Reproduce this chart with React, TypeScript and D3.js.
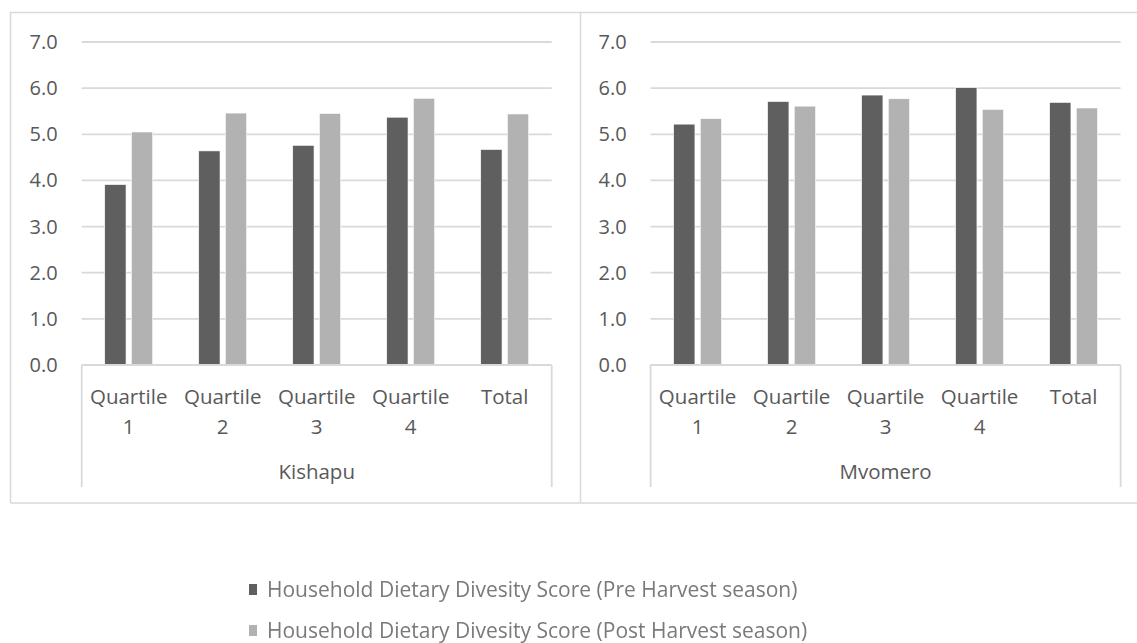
import React from "react";
import * as d3 from "d3";

// Household Dietary Diversity Score by wealth quartile, two districts
const categories = ["Quartile 1", "Quartile 2", "Quartile 3", "Quartile 4", "Total"];
const districts = ["Kishapu", "Mvomero"];
const seriesNames = [
  "Household Dietary Divesity Score (Pre Harvest season)",
  "Household Dietary Divesity Score (Post Harvest season)",
];
const kishapuPre = [3.91, 4.64, 4.76, 5.37, 4.67];
const kishapuPost = [5.05, 5.46, 5.45, 5.78, 5.44];
const mvomeroPre = [5.22, 5.71, 5.85, 6.01, 5.69];
const mvomeroPost = [5.34, 5.61, 5.77, 5.54, 5.57];
const yTicks = [0, 1, 2, 3, 4, 5, 6, 7];

const panelValues = [
  [kishapuPre, kishapuPost],
  [mvomeroPre, mvomeroPost],
];

const W = 1137;
const H = 643;
const seriesColors = ["#5f5f5f", "#b2b2b2"];
const gridColor = "#d9d9d9";
const textColor = "#595959";
const font = "'Open Sans', 'Noto Sans', sans-serif";

const panels = [
  { left: 10.5, right: 580.5, plotLeft: 81.7, plotRight: 551.7 },
  { left: 580.5, right: 1140, plotLeft: 650.6, plotRight: 1120.6 },
];

const boxTop = 12.5;
const boxBottom = 503;
const axisBottom = 487;

const y = d3.scaleLinear().domain([0, 7]).range([365, 42]);

function Panel({ idx }: { idx: number }) {
  const p = panels[idx];
  const x0 = d3
    .scaleBand<string>()
    .domain(categories)
    .range([p.plotLeft, p.plotRight])
    .paddingInner(0.49)
    .paddingOuter(0.245);
  const x1 = d3
    .scaleBand<number>()
    .domain([0, 1])
    .range([0, x0.bandwidth()])
    .paddingInner(0.2);
  const vals = panelValues[idx];
  return (
    <g>
      {yTicks.map((t) => (
        <g key={t}>
          {t > 0 && (
            <line
              x1={p.plotLeft}
              x2={p.plotRight}
              y1={y(t)}
              y2={y(t)}
              stroke={gridColor}
              strokeWidth={1.8}
            />
          )}
          <text
            x={p.plotLeft - 24}
            y={y(t)}
            dy="0.35em"
            textAnchor="end"
            fontSize={20}
            fill={textColor}
            fontFamily={font}
          >
            {t.toFixed(1)}
          </text>
        </g>
      ))}
      {vals.map((series, si) =>
        series.map((v, ci) => (
          <rect
            key={`${si}-${ci}`}
            x={(x0(categories[ci]) as number) + (x1(si) as number)}
            y={y(v)}
            width={x1.bandwidth()}
            height={y(0) - y(v)}
            fill={seriesColors[si]}
            stroke="#ffffff"
            strokeWidth={0.6}
          />
        ))
      )}
      {/* category axis box */}
      <line x1={p.plotLeft} x2={p.plotRight} y1={y(0)} y2={y(0)} stroke={gridColor} strokeWidth={1.8} />
      <line x1={p.plotLeft} x2={p.plotLeft} y1={y(0)} y2={axisBottom} stroke={gridColor} strokeWidth={1.8} />
      <line x1={p.plotRight} x2={p.plotRight} y1={y(0)} y2={axisBottom} stroke={gridColor} strokeWidth={1.8} />
      {categories.map((c) => {
        const cx = (x0(c) as number) + x0.bandwidth() / 2;
        const parts = c.split(" ");
        return (
          <text
            key={c}
            x={cx}
            textAnchor="middle"
            fontSize={20.5}
            fill={textColor}
            fontFamily={font}
          >
            {parts.map((s, i) => (
              <tspan key={i} x={cx} y={397 + i * 30} dy="0.35em">
                {s}
              </tspan>
            ))}
          </text>
        );
      })}
      <text
        x={(p.plotLeft + p.plotRight) / 2}
        y={472}
        dy="0.35em"
        textAnchor="middle"
        fontSize={20.5}
        fill={textColor}
        fontFamily={font}
      >
        {districts[idx]}
      </text>
    </g>
  );
}

export default function App() {
  const legendX = 249;
  const legendY = [590, 631];
  return (
    <svg
      width={W}
      height={H}
      style={{ position: "absolute", left: 0, top: 0, background: "#ffffff" }}
    >
      <defs>
        <filter id="soft" x="-5%" y="-50%" width="110%" height="200%">
          <feGaussianBlur stdDeviation="0.7" />
        </filter>
      </defs>
      <rect x={0} y={0} width={W} height={H} fill="#ffffff" />
      {/* panel frames */}
      <path
        d={`M${panels[0].left},${boxBottom} V${boxTop} H${W + 2} M${panels[1].left},${boxTop} V${boxBottom} M${panels[0].left},${boxBottom} H${W + 2}`}
        fill="none"
        stroke={gridColor}
        strokeWidth={1.5}
      />
      <Panel idx={0} />
      <Panel idx={1} />
      <g filter="url(#soft)">
        {seriesNames.map((name, i) => (
          <g key={name}>
            <rect
              x={legendX}
              y={legendY[i] - 6}
              width={8}
              height={11}
              fill={seriesColors[i]}
            />
            <text
              x={legendX + 18}
              y={legendY[i]}
              dy="0.35em"
              fontSize={21}
              fill="#7a7a7a"
              fontFamily={font}
            >
              {name}
            </text>
          </g>
        ))}
      </g>
    </svg>
  );
}
